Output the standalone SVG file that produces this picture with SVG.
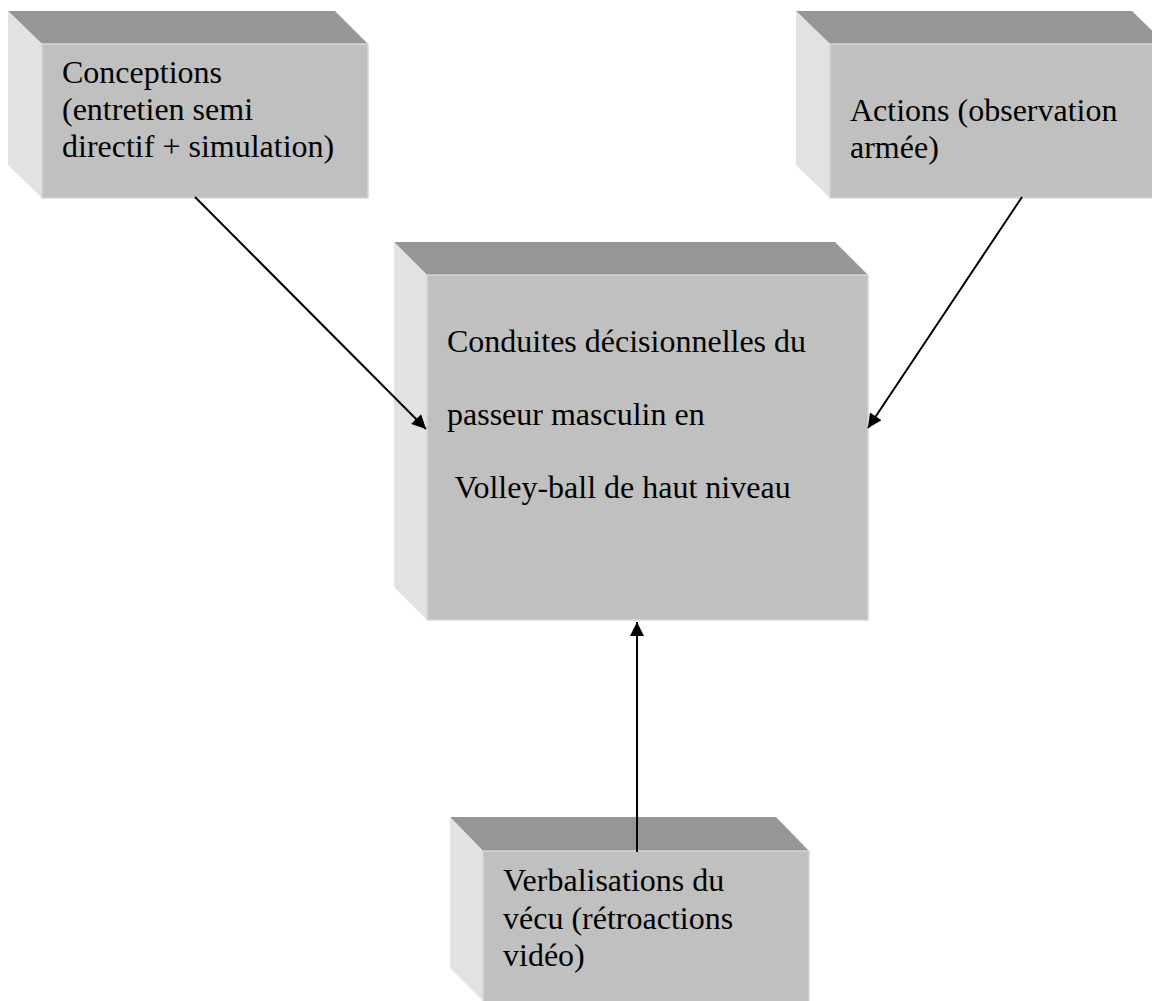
<svg xmlns="http://www.w3.org/2000/svg" width="1152" height="1001" viewBox="0 0 1152 1001">
<style>
.top{fill:#969696}
.side{fill:#e2e2e2}
.front{fill:#c0c0c0;stroke:#d6d6d6;stroke-width:1.5}
.t{font-family:"Liberation Serif","Times New Roman",serif;font-size:32px;fill:#000}
.c{stroke:#000;stroke-width:2;fill:none}
</style>
<defs>
<marker id="ah" viewBox="0 0 10 10" refX="10" refY="5" markerWidth="8.5" markerHeight="7" markerUnits="strokeWidth" orient="auto">
<path d="M0,0 L10,5 L0,10 z" fill="#000"/>
</marker>
</defs>
<rect width="1152" height="1001" fill="#fff"/>
<g id="node-conceptions">
<polygon class="top" points="8,11 335,11 368,44 42,44"/>
<polygon class="side" points="8,11 42,44 42,198 8,165"/>
<rect class="front" x="42" y="44" width="326" height="154"/>
<text class="t" x="62" y="83">Conceptions</text>
<text class="t" x="62" y="120">(entretien semi</text>
<text class="t" x="62" y="157">directif + simulation)</text>
</g>
<g id="node-actions">
<polygon class="top" points="796,11 1132,11 1166,44 830,44"/>
<polygon class="side" points="796,11 830,44 830,198 796,165"/>
<rect class="front" x="830" y="44" width="336" height="154"/>
<text class="t" x="850" y="121">Actions (observation</text>
<text class="t" x="850" y="158">armée)</text>
</g>
<g id="node-conduites">
<polygon class="top" points="394,242 835,242 868,275 427,275"/>
<polygon class="side" points="394,242 427,275 427,620 394,587"/>
<rect class="front" x="427" y="275" width="441" height="345"/>
<text class="t" x="447" y="352">Conduites décisionnelles du</text>
<text class="t" x="447" y="425">passeur masculin en</text>
<text class="t" x="447" y="498" xml:space="preserve"> Volley-ball de haut niveau</text>
</g>
<g id="node-verbalisations">
<polygon class="top" points="450,817 776,817 809,851 483,851"/>
<polygon class="side" points="450,817 483,851 483,1001 450,968"/>
<rect class="front" x="483" y="851" width="326" height="152"/>
<text class="t" x="503" y="891">Verbalisations du</text>
<text class="t" x="503" y="929">vécu (rétroactions</text>
<text class="t" x="503" y="966">vidéo)</text>
</g>
<g id="connectors">
<line class="c" x1="195" y1="197" x2="426" y2="429" marker-end="url(#ah)"/>
<line class="c" x1="1022" y1="197" x2="868" y2="428" marker-end="url(#ah)"/>
<line class="c" x1="637" y1="852" x2="637" y2="622" marker-end="url(#ah)"/>
</g>
</svg>
